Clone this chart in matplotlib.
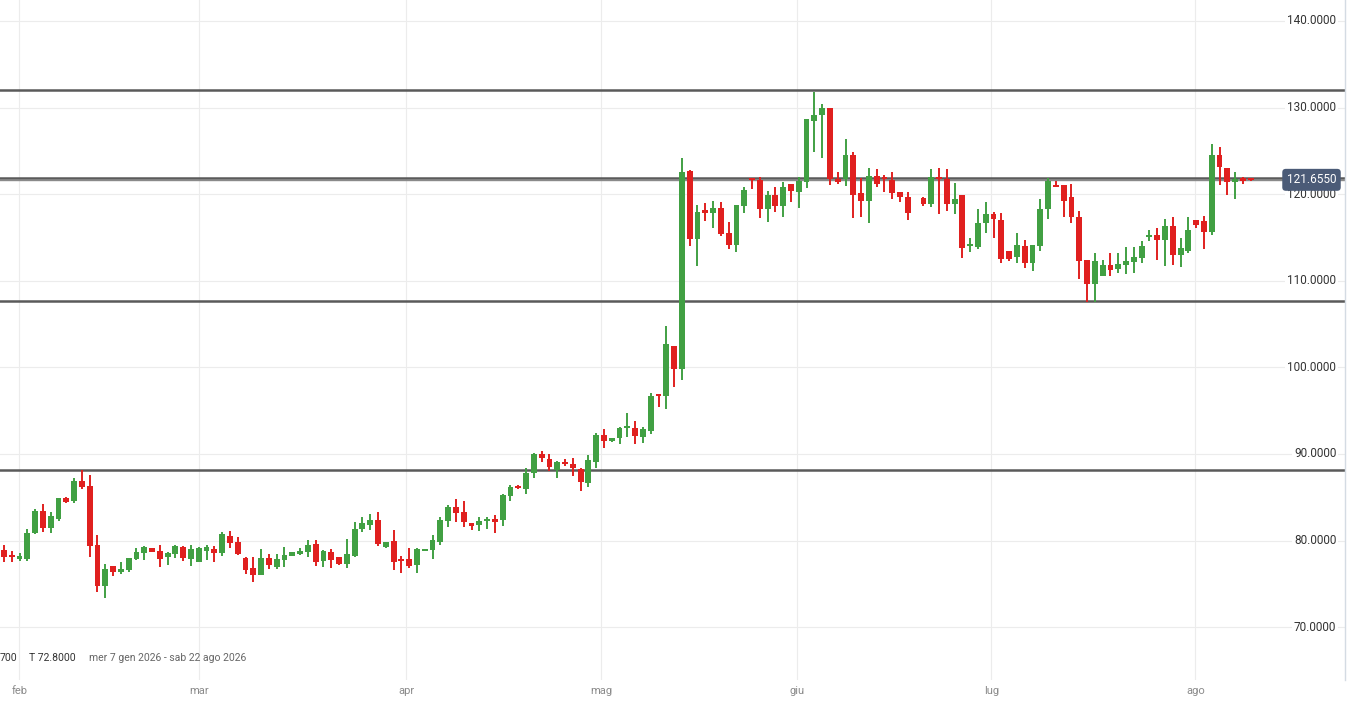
import numpy as np
import matplotlib.pyplot as plt

plt.rcParams['font.family'] = ['Roboto', 'DejaVu Sans']

# daily candles, Jan->Aug 2026 (one gap near end of June)
opens = [78.91, 78.2, 77.9, 77.87, 80.84, 83.4, 81.49, 82.45, 84.88, 84.57,
         86.88, 86.3, 79.49, 74.79, 77.06, 76.33, 76.6, 77.87, 78.6, 79.1,
         78.8, 78.14, 78.4, 79.26, 77.9, 77.56, 78.83, 79.03, 78.6, 80.53,
         79.8, 77.95, 76.87, 76.0, 78.0, 76.98, 77.75, 78.26, 78.45, 78.72,
         79.6, 77.68, 78.65, 78.07, 77.3, 78.22, 81.34, 81.8, 82.38, 79.23,
         79.96, 77.76, 77.84, 77.18, 78.84, 78.92, 79.88, 82.3, 83.84, 83.27,
         81.99, 81.8, 82.3, 82.5, 82.38, 85.15, 86.3, 85.96, 87.85, 90.0,
         89.39, 88.16, 89.0, 88.85, 88.27, 86.61, 89.04, 92.2, 91.54, 91.81,
         93.0, 92.96, 91.92, 92.69, 96.88, 96.73, 102.5, 99.77, 122.7, 114.79,
         118.17, 117.79, 118.37, 115.48, 114.13, 118.67, 121.83, 121.64, 118.25, 119.91,
         118.68, 121.18, 120.29, 121.45, 128.49, 129.15, 129.92, 121.72, 121.72, 124.53,
         120.1, 119.25, 122.14, 122.03, 121.64, 120.22, 119.64, np.nan, 119.52, 118.83,
         121.95, 121.76, 118.83, 119.9, 114.05, 113.94, 116.7, 117.67, 117.02, 113.44,
         112.7, 114.02, 112.09, 114.02, 118.25, 121.06, 121.06, 119.71, 117.33, 112.39,
         109.62, 110.59, 111.82, 111.36, 111.82, 112.2, 112.66, 115.06, 115.29, 114.71,
         116.32, 112.97, 113.47, 117.02, 116.9, 115.67, 124.53, 122.98, 121.37, 121.9,
         121.7]
highs = [79.49, 78.83, 78.6, 81.33, 83.6, 84.22, 83.26, 84.95, 85.0, 87.19,
         88.15, 87.57, 80.64, 77.3, 77.06, 77.5, 78.0, 79.1, 79.37, 79.18,
         79.45, 78.7, 79.49, 79.37, 79.49, 79.3, 79.49, 79.37, 81.03, 81.14,
         80.37, 78.14, 78.14, 79.0, 78.4, 78.45, 79.3, 78.7, 79.1, 80.07,
         80.07, 78.9, 79.03, 78.14, 80.15, 82.19, 82.69, 83.07, 83.27, 79.88,
         81.23, 78.22, 79.1, 79.1, 79.03, 80.65, 82.77, 84.11, 84.8, 84.57,
         81.99, 82.77, 82.77, 82.96, 85.34, 86.42, 86.42, 88.35, 90.16, 90.39,
         90.0, 89.2, 89.39, 89.5, 88.35, 89.89, 92.39, 92.85, 91.81, 93.16,
         94.69, 93.8, 93.07, 97.0, 96.88, 104.8, 102.5, 124.14, 122.8, 118.75,
         118.95, 119.25, 119.06, 116.83, 118.75, 120.87, 121.83, 122.0, 120.37, 120.8,
         121.37, 121.18, 121.95, 128.69, 131.84, 130.42, 129.92, 122.6, 126.34, 124.91,
         121.83, 122.99, 122.87, 122.22, 122.6, 120.29, 120.29, np.nan, 119.71, 122.87,
         122.99, 122.87, 121.26, 119.9, 114.9, 118.25, 119.13, 117.98, 117.79, 113.44,
         115.48, 114.71, 114.13, 119.4, 121.83, 121.56, 121.06, 121.18, 118.06, 112.39,
         113.17, 112.39, 113.17, 113.24, 113.94, 113.94, 114.59, 115.86, 116.13, 117.1,
         117.33, 114.98, 117.33, 117.02, 117.48, 125.8, 125.49, 122.98, 122.52, 122.02,
         121.8]
lows = [77.56, 77.5, 77.6, 77.68, 80.76, 81.03, 80.91, 82.3, 84.38, 84.3,
        85.92, 78.14, 74.1, 73.4, 75.9, 76.1, 76.4, 77.75, 77.7, 78.64,
        76.9, 77.2, 78.0, 77.68, 77.1, 77.56, 77.7, 77.56, 78.2, 79.1,
        78.3, 76.1, 75.25, 76.0, 76.75, 76.68, 76.98, 78.2, 78.3, 78.06,
        77.1, 77.0, 76.8, 77.18, 76.8, 78.14, 80.96, 81.23, 79.42, 79.11,
        76.6, 76.3, 76.8, 76.3, 78.84, 77.88, 79.49, 81.53, 82.19, 81.61,
        81.23, 81.15, 81.34, 80.92, 81.69, 84.61, 85.92, 85.38, 87.19, 89.12,
        88.08, 87.27, 88.66, 87.46, 85.77, 86.23, 88.42, 90.66, 91.35, 91.12,
        92.0, 91.15, 91.23, 92.3, 95.46, 95.2, 97.77, 98.54, 114.0, 111.71,
        116.94, 116.06, 115.17, 113.63, 113.36, 117.79, 120.56, 117.21, 116.83, 117.98,
        117.33, 119.06, 118.37, 120.68, 124.91, 124.22, 121.06, 121.18, 120.95, 117.21,
        117.4, 116.63, 120.8, 120.29, 119.41, 119.14, 117.02, np.nan, 118.68, 118.56,
        117.67, 118.1, 117.67, 112.66, 113.36, 113.63, 115.48, 114.9, 112.0, 112.28,
        112.09, 111.43, 111.13, 113.47, 117.1, 120.8, 117.33, 116.63, 110.24, 107.58,
        107.58, 110.59, 110.59, 110.93, 110.78, 110.93, 112.09, 114.59, 112.39, 111.7,
        111.82, 111.63, 113.24, 116.13, 113.67, 115.29, 121.06, 119.9, 119.44, 121.18,
        121.5]
closes = [78.14, 78.1, 78.2, 80.84, 83.45, 81.49, 82.84, 84.88, 84.49, 86.88,
          86.15, 79.4, 74.79, 76.68, 76.4, 76.72, 78.0, 78.68, 79.3, 78.64,
          77.9, 78.52, 79.37, 77.95, 79.0, 79.18, 79.3, 78.52, 80.76, 79.76,
          78.45, 76.6, 76.0, 77.98, 77.2, 77.83, 78.33, 78.64, 78.83, 79.49,
          77.56, 78.83, 77.76, 77.3, 78.41, 81.34, 81.99, 82.38, 79.61, 79.8,
          77.57, 77.65, 77.1, 79.03, 79.03, 80.07, 82.38, 83.92, 83.23, 82.19,
          81.69, 82.3, 82.5, 82.19, 85.27, 86.15, 86.04, 87.77, 90.0, 89.58,
          88.47, 89.04, 88.85, 88.35, 86.73, 89.31, 92.2, 91.54, 91.81, 92.97,
          93.1, 92.07, 92.84, 96.73, 96.69, 102.7, 99.77, 122.56, 114.79, 117.98,
          117.79, 118.37, 115.36, 114.13, 118.75, 120.49, 121.64, 118.25, 119.91, 118.68,
          120.8, 120.41, 121.53, 128.69, 129.15, 129.92, 121.72, 121.45, 124.53, 119.91,
          119.25, 122.14, 121.18, 121.72, 120.18, 119.72, 117.79, np.nan, 118.83, 122.03,
          121.72, 118.83, 119.45, 113.82, 114.13, 116.63, 117.67, 117.1, 112.47, 112.47,
          114.13, 112.0, 114.13, 118.29, 121.56, 120.87, 119.25, 117.33, 112.32, 109.62,
          112.28, 111.82, 111.24, 111.93, 112.28, 112.78, 114.02, 115.17, 114.71, 116.32,
          112.97, 113.82, 115.86, 116.44, 115.67, 124.53, 123.1, 121.37, 121.71, 121.56,
          121.655]

level_lines = [132.0, 121.86, 107.7, 88.1]
last_price = 121.655
y_ticks = [70, 80, 90, 100, 110, 120, 130, 140]
month_pos = [1.96, 25.0, 51.6, 76.6, 101.8, 126.7, 152.9]
month_names = ['feb', 'mar', 'apr', 'mag', 'giu', 'lug', 'ago']

o = np.array(opens); h = np.array(highs); l = np.array(lows); c = np.array(closes)
x = np.arange(len(o))
up = c >= o
cols = np.where(up, '#41a043', '#e0201f')
body_bottom = np.minimum(o, c)
body_h = np.maximum(np.abs(c - o), 0.18)

fig = plt.figure(figsize=(13.47, 7.01), dpi=100)
ax = fig.add_axes([0, 21/701, 1345/1347, 680/701])

ax.vlines(x, l, h, colors=cols, linewidth=1.4, zorder=3)
ax.bar(x, body_h, bottom=body_bottom, width=0.75, color=cols, linewidth=0, zorder=4)

for lv in level_lines:
    ax.axhline(lv, color='#5a5a5a', linewidth=1.8, zorder=2)
ax.axhline(last_price, color='#8a8a8a', linewidth=1.0, zorder=2)

ax.set_xlim(-0.51, 172.1)
ax.set_ylim(63.9, 142.42)
ax.set_yticks(y_ticks)
ax.set_xticks(month_pos)
ax.set_xticklabels(month_names, color='#8a8a8a', fontsize=8)
ax.tick_params(axis='x', length=0, pad=4)
ax.tick_params(axis='y', length=0, labelleft=False)
ax.grid(True, color='#ececec', linewidth=0.8, zorder=0)
ax.set_axisbelow(True)
for s in ['top', 'left', 'bottom']:
    ax.spines[s].set_visible(False)
ax.spines['right'].set_color('#d4dbe3')
ax.spines['right'].set_linewidth(1)

for t in y_ticks:
    ax.text(0.9935, t, '%.4f' % t, transform=ax.get_yaxis_transform(), ha='right', va='center',
            fontsize=8.5, color='#333333', zorder=6,
            bbox=dict(facecolor='white', edgecolor='none', pad=1.5))

ax.text(0.9935, last_price, '%.4f' % last_price, transform=ax.get_yaxis_transform(),
        ha='right', va='center', fontsize=8.5, color='white', zorder=7,
        bbox=dict(boxstyle='round,pad=0.38,rounding_size=0.3', facecolor='#4b5b77', edgecolor='none'))

fig.text(0/1347, 1-658/701, '700', fontsize=7.5, color='#333333', va='center', ha='left')
fig.text(29/1347, 1-658/701, 'T 72.8000', fontsize=7.5, color='#333333', va='center', ha='left')
fig.text(89/1347, 1-658/701, 'mer 7 gen 2026 - sab 22 ago 2026', fontsize=7.5, color='#666666', va='center', ha='left')

fig.savefig('out.png', dpi=100, facecolor='white')
